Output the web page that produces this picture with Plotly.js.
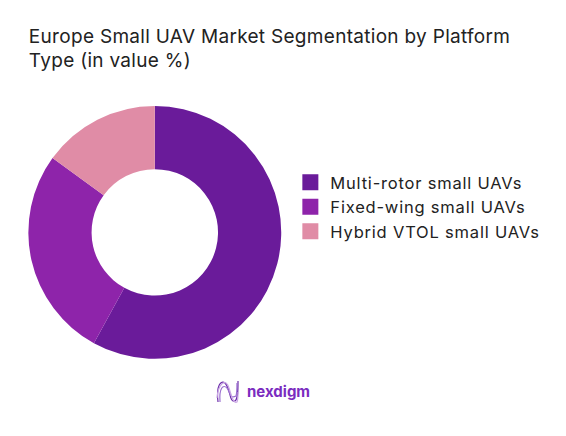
<!DOCTYPE html>
<html><head><meta charset="utf-8"><script src="https://cdn.plot.ly/plotly-3.0.1.min.js"></script>
<style>html,body{margin:0;padding:0;background:#fff}
.legend .legendpoints path{stroke-width:4px !important}
.legend text{letter-spacing:0.8px}
.legend .scrollbox{clip-path:none !important}
.gtitle{letter-spacing:0.3px}</style></head><body><div id="c" style="width:566px;height:436px"></div>
<script>
const categories=["Multi-rotor small UAVs","Fixed-wing small UAVs","Hybrid VTOL small UAVs"];
const shares=[58,27,15];
const colors=["#6A1B9A","#8E24AA","#E08CA6"];
const titleText="Europe Small UAV Market Segmentation by Platform<br>Type (in value %)";
const F="Inter, 'Open Sans', sans-serif";
const logoColor="#7B2CBF";
const logoCurves=[
 [[218,402],[216,385],[221,380],[225,383],[231,389],[229,403],[235,401],[238,399],[238,390],[238,381]],
 [[220,402],[219,388],[223,384],[227,388],[231,394],[230,399],[236,396],[237,393],[237,388],[237,383]],
 [[217,398],[218,384],[226,377],[229,388],[232,398],[234,404],[237,402],[238,400],[238,396],[238,392]]];
const logoPath=pts=>{const q=pts.map(p=>(p[0]/566).toFixed(4)+","+(1-p[1]/436).toFixed(4));
 let s="M "+q[0];for(let i=1;i<q.length;i+=3)s+=" C "+q[i]+" "+q[i+1]+" "+q[i+2];return s;};
Plotly.newPlot("c",[{type:"pie",labels:categories,values:shares,hole:0.5,sort:false,direction:"clockwise",rotation:0,
 textinfo:"none",marker:{colors:colors,line:{width:0.01,color:colors}},domain:{x:[0.0495,0.4975],y:[0.177,0.757]}}],
{width:566,height:436,margin:{l:0,r:0,t:0,b:0},paper_bgcolor:"#fff",
 title:{text:titleText,x:0.051,xanchor:"left",y:0.902,yanchor:"middle",font:{family:F,size:19,color:"#222"}},
 legend:{x:0.513,y:0.525,xanchor:"left",yanchor:"middle",font:{family:F,size:16.5,color:"#222"},itemwidth:30,tracegroupgap:0},
 shapes:logoCurves.map((p,i)=>({type:"path",path:logoPath(p),xref:"paper",yref:"paper",line:{color:["#6A2AA8","#9B6FD0","#C9A6E4"][i],width:1.2}})),
 annotations:[{text:"<b>nexdigm</b>",xref:"paper",yref:"paper",x:0.433,y:0.103,xanchor:"left",yanchor:"middle",showarrow:false,font:{family:F,size:15,color:logoColor}}]
},{displayModeBar:false});
</script></body></html>
